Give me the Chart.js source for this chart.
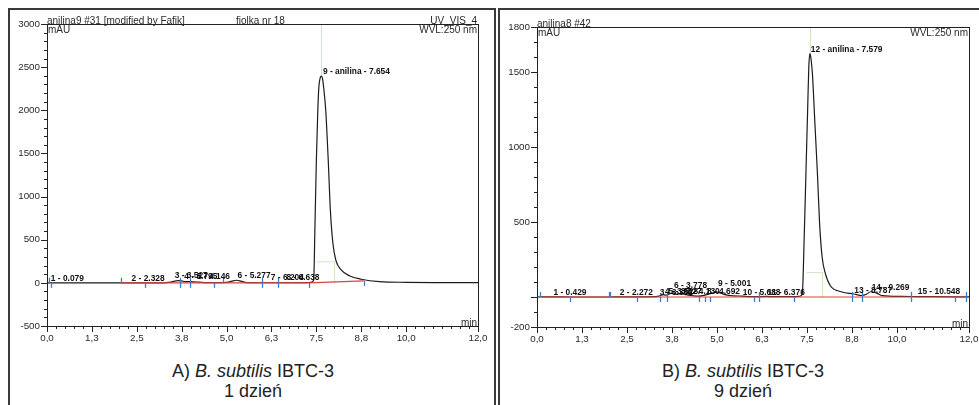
<!DOCTYPE html>
<html><head><meta charset="utf-8">
<script src="https://cdn.jsdelivr.net/npm/chart.js@4.4.1/dist/chart.umd.min.js"></script>
<style>
html,body{margin:0;padding:0;background:#fff;}
body{width:979px;height:405px;position:relative;overflow:hidden;font-family:"Liberation Sans",Arial,sans-serif;}
canvas{position:absolute;top:0;}
.frame{position:absolute;border:2px solid #3a3a3a;box-sizing:border-box;}
.cap{position:absolute;top:361px;width:400px;text-align:center;font-size:18px;line-height:20px;color:#222;font-family:"Liberation Sans",Arial,sans-serif;}
</style></head><body>
<div class="frame" style="left:8px;top:8px;width:488px;height:420px"></div>
<div class="frame" style="left:498px;top:8px;width:500px;height:420px"></div>
<div class="cap" style="left:53px">A) <i>B. subtilis</i> IBTC-3<br>1 dzień</div>
<div class="cap" style="left:543px">B) <i>B. subtilis</i> IBTC-3<br>9 dzień</div>
<canvas id="cA" width="497" height="405" style="left:0"></canvas>
<canvas id="cB" width="482" height="405" style="left:497px"></canvas>
<script>
// ---------- data: panel A (1 dzień) ----------
const timeA   = [0,0.5,1,2,3,3.3,3.45,3.55,3.65,3.75,3.85,3.95,4.05,4.15,4.3,4.5,4.7,4.9,5.05,5.15,5.28,5.4,5.52,5.7,6.0,6.5,6.64,6.8,7.2,7.35,7.425,7.46,7.50,7.54,7.57,7.61,7.64,7.67,7.70,7.76,7.83,7.89,7.96,8.04,8.19,8.43,8.75,9.26,10.0,11.0,12.0];
const signalA = [0,0,0,0,0,2,8,20,25,22,14,16,12,10,6,3,2,3,8,20,30,20,6,2,1,1,3,1,2,6,30,651,1424,2004,2274,2380,2397,2370,2274,2004,1424,838,459,265,150,80,42,14,6,3,2];
const baseTimeA = [2.05,7.30,8.82];
const baseValA  = [0,0,23];
const markTimeA = [0.06,0.11,2.05,2.72,3.71,3.99,4.66,4.89,5.98,6.42,7.30,8.82];
const markValA  = [0,0,0,0,0,0,0,0,0,0,0,23];
const markDirA  = ['u','d','u','d','b','b','d','u','b','b','d','d'];
const peakTimeA = [0.079,2.328,3.527,3.795,4.146,5.277,6.204,6.638,7.654];
const peakValA  = [0,0,31,20,20,30,8,8,2397];
const peakTextA = ['1 - 0.079','2 - 2.328','3 - 3.527','4 - 3.795','5 - 4.146','6 - 5.277','7 - 6.204','8 - 6.638','9 - anilina - 7.654'];
const greenA = [[7.62,2397,7.62,3000],[7.48,243,7.99,243],[7.99,0,7.99,243]];
const yLabelsA = [3000,2500,2000,1500,1000,500,0,-500];
const yMajorA  = [3000,2500,2000,1500,1000,500,0,-500];

// ---------- data: panel B (9 dzień) ----------
const timeB   = [0,0.43,1,2,2.27,3,3.3,3.42,3.5,3.58,3.68,3.78,3.88,3.98,4.1,4.2,4.35,4.5,4.62,4.72,4.85,5.0,5.1,5.25,5.45,5.69,5.9,6.1,6.376,6.6,7.0,7.2,7.3,7.37,7.42,7.47,7.52,7.55,7.58,7.61,7.65,7.72,7.79,7.85,7.92,8.01,8.15,8.45,8.8,9.03,9.15,9.27,9.38,9.5,9.6,10.1,10.548,11.0,12.0];
const signalB = [0,1,0,0,1,1,2,8,16,12,20,28,18,24,18,12,8,6,10,16,24,32,26,14,8,6,3,2,4,2,2,3,5,22,378,822,1267,1533,1622,1590,1489,1156,822,489,267,156,75,35,20,10,18,35,32,18,9,4,3,2,1];
const baseTimeB = [0.09,11.93];
const baseValB  = [0,0];
const markTimeB = [0.09,0.93,2.0,2.03,2.78,3.41,3.61,4.49,4.66,4.81,6.04,6.17,7.15,8.75,9.03,10.39,11.62,11.93];
const markValB  = [0,0,0,0,0,0,0,0,0,0,0,0,0,0,0,0,0,0];
const markDirB  = ['u','d','u','u','d','d','b','d','d','d','d','b','d','b','b','b','d','b'];
const peakTimeB = [0.429,2.272,3.382,3.528,3.627,3.778,4.130,4.692,5.001,5.688,6.376,7.579,8.787,9.269,10.548];
const peakValB  = [0,0,0,5,5,48,8,5,60,0,0,1622,12,36,8];
const peakTextB = ['1 - 0.429','2 - 2.272','3 - 3.382','4 - 3.528','5 - 3.627','6 - 3.778','7 - 4.130','8 - 4.692','9 - 5.001','10 - 5.688','11 - 6.376','12 - anilina - 7.579','13 - 8.787','14 - 9.269','15 - 10.548'];
const greenB = [[7.58,1622,7.58,1800],[7.48,163,7.91,163],[7.91,0,7.91,163]];
const yLabelsB = [1800,1500,1000,500,-200];
const yMajorB  = [1800,1500,1000,500,0,-200];

// ---------- shared axis ----------
const xMajor  = [0,1.25,2.5,3.75,5,6.25,7.5,8.75,10,12];
const xLabels = ['0,0','1,3','2,5','3,8','5,0','6,3','7,5','8,8','10,0','12,0'];
const xMinorStep = 0.25;
const yMinorStep = 100;

const FONT = '"Liberation Sans", Arial, sans-serif';
const pts = (t, v) => t.map((x, i) => ({x: x, y: v[i]}));

function build(id, o) {
  const deco = {
    id: 'deco',
    beforeDatasetsDraw(chart) {
      const ctx = chart.ctx, xs = chart.scales.x, ys = chart.scales.y;
      ctx.save();
      ctx.strokeStyle = '#cfe6c6'; ctx.lineWidth = 1;
      o.green.forEach(g => {
        ctx.beginPath();
        ctx.moveTo(Math.round(xs.getPixelForValue(g[0])) + 0.5, ys.getPixelForValue(g[1]));
        ctx.lineTo(Math.round(xs.getPixelForValue(g[2])) + 0.5, ys.getPixelForValue(g[3]));
        ctx.stroke();
      });
      ctx.restore();
    },
    afterDatasetsDraw(chart) {
      const ctx = chart.ctx, xs = chart.scales.x, ys = chart.scales.y, a = chart.chartArea;
      ctx.save();
      ctx.strokeStyle = '#3d7cc9'; ctx.lineWidth = 1.3;
      o.markT.forEach((t, i) => {
        const x = Math.round(xs.getPixelForValue(t)) + 0.5, y = ys.getPixelForValue(o.markV[i]);
        const d = o.markD[i];
        ctx.beginPath();
        ctx.moveTo(x, d === 'd' ? y : y - 5);
        ctx.lineTo(x, d === 'u' ? y : y + 5);
        ctx.stroke();
      });
      ctx.strokeStyle = '#222'; ctx.lineWidth = 1;
      ctx.strokeRect(Math.round(a.left) + 0.5, Math.round(a.top) + 0.5, Math.round(a.right - a.left), Math.round(a.bottom - a.top));
      const yMin = ys.min, yMax = ys.max;
      ctx.beginPath();
      for (let v = yMin; v <= yMax + 0.001; v += yMinorStep) {
        const y = Math.round(ys.getPixelForValue(v)) + 0.5;
        const len = o.yMajor.includes(v) ? 6 : 3;
        ctx.moveTo(a.left, y); ctx.lineTo(a.left - len, y);
      }
      for (let v = 0; v <= 12.001; v += xMinorStep) {
        const x = Math.round(xs.getPixelForValue(v)) + 0.5;
        const len = xMajor.includes(v) ? 6 : 3;
        ctx.moveTo(x, a.bottom); ctx.lineTo(x, a.bottom + len);
      }
      ctx.stroke();
      ctx.fillStyle = '#111';
      ctx.font = 'bold 8.4px ' + FONT;
      ctx.textAlign = 'left'; ctx.textBaseline = 'alphabetic';
      o.peakT.forEach((t, i) => {
        ctx.fillText(o.peakS[i], xs.getPixelForValue(t) + 1, ys.getPixelForValue(o.peakV[i]) - 2);
      });
      ctx.fillStyle = '#2a2a2a';
      ctx.font = '10px ' + FONT;
      ctx.textBaseline = 'alphabetic';
      o.headL.forEach(h => { ctx.textAlign = h[2]; ctx.fillText(h[0], h[1], a.top - 0.5); });
      ctx.textBaseline = 'top';
      ctx.textAlign = 'left'; ctx.fillText('mAU', a.left + 1, a.top + 1.5);
      ctx.textAlign = 'right'; ctx.fillText('WVL:250 nm', a.right - 1, a.top + 1.5);
      ctx.textBaseline = 'alphabetic';
      ctx.fillText('min', a.right - 1, a.bottom - 0.5);
      ctx.restore();
    }
  };
  return new Chart(document.getElementById(id), {
    type: 'line',
    data: {datasets: [
      {data: pts(o.baseT, o.baseV), borderColor: '#e2403a', borderWidth: 1.2, pointRadius: 0, tension: 0},
      {data: pts(o.t, o.v), borderColor: '#1c1c1c', borderWidth: 1.2, pointRadius: 0, cubicInterpolationMode: 'monotone'}
    ]},
    options: {
      responsive: false, animation: false, events: [],
      plugins: {legend: {display: false}, tooltip: {enabled: false}},
      layout: {padding: {left: 0, top: o.area.top, right: o.canvasW - o.area.right, bottom: 0}},
      scales: {
        x: {
          type: 'linear', min: 0, max: 12,
          afterBuildTicks: s => { s.ticks = xMajor.map(v => ({value: v})); },
          afterFit: s => { s.height = 405 - o.area.bottom; s.paddingLeft = 0; s.paddingRight = 0; },
          grid: {display: false, drawTicks: false}, border: {display: false},
          ticks: {padding: 6, autoSkip: false, maxRotation: 0, color: '#2a2a2a', font: {size: 9.8, family: FONT},
                  callback: v => { const k = xMajor.indexOf(v); return k >= 0 ? xLabels[k] : ''; }}
        },
        y: {
          type: 'linear', min: o.yMin, max: o.yMax,
          afterBuildTicks: s => { s.ticks = o.yLabels.map(v => ({value: v})); },
          afterFit: s => { s.width = o.area.left; s.paddingTop = 0; s.paddingBottom = 0; },
          grid: {display: false, drawTicks: false}, border: {display: false},
          ticks: {padding: 7, autoSkip: false, color: '#2a2a2a', font: {size: 9.8, family: FONT},
                  callback: v => String(v)}
        }
      }
    },
    plugins: [deco]
  });
}

build('cA', {
  canvasW: 497, area: {left: 47, top: 24, right: 478, bottom: 326},
  t: timeA, v: signalA, baseT: baseTimeA, baseV: baseValA,
  markT: markTimeA, markV: markValA, markD: markDirA,
  peakT: peakTimeA, peakV: peakValA, peakS: peakTextA,
  green: greenA, yMin: -500, yMax: 3000, yLabels: yLabelsA, yMajor: yMajorA,
  headL: [['anilina9 #31 [modified by Fafik]', 47, 'left'], ['fiolka nr 18', 236, 'left'], ['UV_VIS_4', 477, 'right']]
});
build('cB', {
  canvasW: 482, area: {left: 40, top: 27, right: 472, bottom: 327},
  t: timeB, v: signalB, baseT: baseTimeB, baseV: baseValB,
  markT: markTimeB, markV: markValB, markD: markDirB,
  peakT: peakTimeB, peakV: peakValB, peakS: peakTextB,
  green: greenB, yMin: -200, yMax: 1800, yLabels: yLabelsB, yMajor: yMajorB,
  headL: [['anilina8 #42', 40, 'left']]
});
</script>
</body></html>
